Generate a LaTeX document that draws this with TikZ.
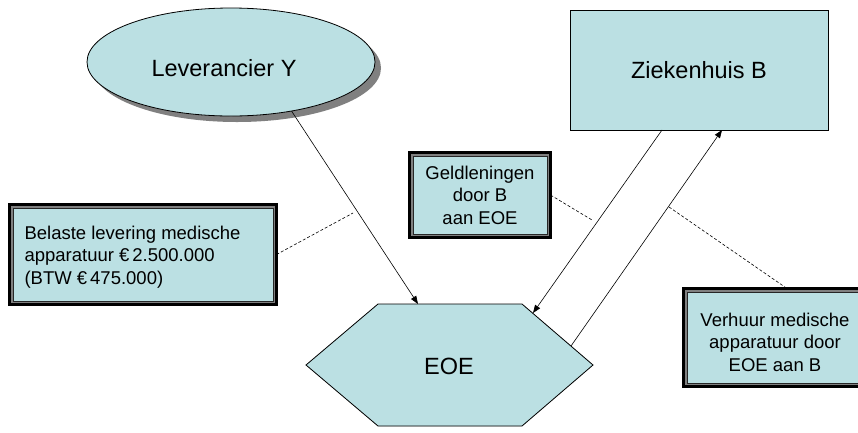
\documentclass[tikz,border=0pt]{standalone}
\usepackage{fontspec}
\setmainfont{Liberation Sans}
\usetikzlibrary{arrows.meta,shapes.geometric,calc}
\definecolor{boxfill}{HTML}{BBE0E3}
\definecolor{shadowgray}{HTML}{808080}
\begin{document}
\begin{tikzpicture}[x=1pt,y=-1pt,
  big/.style={font=\fontsize{23.5}{28}\selectfont},
  small/.style={font=\fontsize{18.5}{22.5}\selectfont},
  plainshape/.style={draw=black, line width=0.8pt, fill=boxfill, inner sep=0pt, outer sep=0pt},
  framed/.style={draw=black, fill=boxfill, line width=3pt, inner sep=0pt, outer sep=0pt,
    path picture={
      \draw[shadowgray, line width=1.4pt]
        ([shift={(2.4pt,-2.4pt)}]path picture bounding box.north west) rectangle
        ([shift={(-2.4pt,2.4pt)}]path picture bounding box.south east);
      \draw[black!85, line width=0.8pt]
        ([shift={(3.6pt,-3.6pt)}]path picture bounding box.north west) rectangle
        ([shift={(-3.6pt,3.6pt)}]path picture bounding box.south east);}},
  arr/.style={-{Triangle[length=8pt,width=6pt]}, line width=0.6pt},
  dashline/.style={dash pattern=on 3pt off 2pt, line width=0.6pt}]
\useasboundingbox (0,0) rectangle (858,432);

% Leverancier Y
\fill[shadowgray] (237,68) ellipse [x radius=144, y radius=54];
\node[plainshape, ellipse, minimum width=288pt, minimum height=108pt] (lev) at (231,62) {};
\node[big] (levt) at (224,68) {Leverancier Y};

% Ziekenhuis B
\node[plainshape, rectangle, minimum width=258pt, minimum height=120pt, big] (zh) at (699,70) {Ziekenhuis B};

% EOE hexagon
\coordinate (hL) at (306,365);
\coordinate (hTL) at (378,304);
\coordinate (hTR) at (522,304);
\coordinate (hR) at (593,365);
\coordinate (hBR) at (522,426);
\coordinate (hBL) at (378,426);
\fill[shadowgray, shift={(7,6)}] (hL) -- (hTL) -- (hTR) -- (hR) -- (hBR) -- (hBL) -- cycle;
\draw[plainshape] (hL) -- (hTL) -- (hTR) -- (hR) -- (hBR) -- (hBL) -- cycle;
\node[big] (eoe) at (449,366) {EOE};

% framed boxes
\node[framed, minimum width=267pt, minimum height=100pt] (bel) at (143,254.5) {};
\node[small, align=left, anchor=west] (belt) at (21,257)
  {Belaste levering medische\\apparatuur €\kern3pt2.500.000\\(BTW €\kern3pt475.000)};

\node[framed, minimum width=141pt, minimum height=85pt, small, align=center] (geld) at (480,195)
  {Geldleningen\\door B\\aan EOE};

\node[framed, minimum width=190pt, minimum height=98pt] (verh) at (778.5,337.5) {};
\node[small, align=center] (verht) at (775,342)
  {Verhuur medische\\apparatuur door\\EOE aan B};

% arrows
\coordinate (eA) at (418,304);
\coordinate (eB) at (533,313);
\coordinate (eC) at (571,346);
\draw[arr] (lev.-39) -- (eA);
\draw[arr] ([xshift=-37pt]zh.south) -- (eB);
\draw[arr] (eC) -- ([xshift=23pt]zh.south);

% dashed leaders
\coordinate (d1) at (353,213);
\coordinate (d2) at (592,220);
\coordinate (d3) at (669,207);
\draw[dashline] (bel.east) -- (d1);
\draw[dashline] (geld.east) -- (d2);
\draw[dashline] (d3) -- ([xshift=8.5pt]verh.north);
\end{tikzpicture}
\end{document}
